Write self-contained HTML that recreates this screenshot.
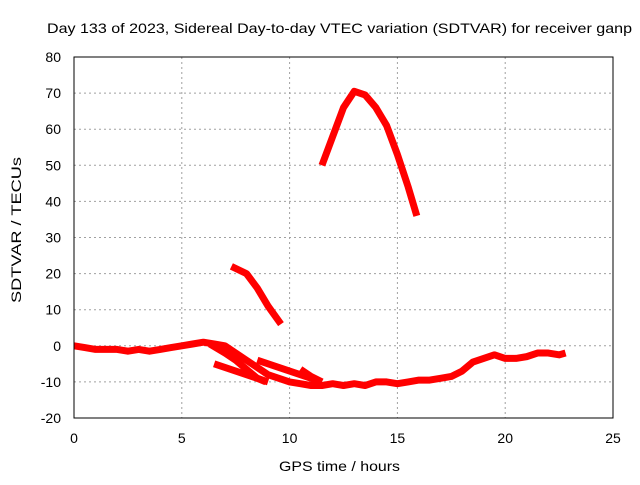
<!DOCTYPE html>
<html><head><meta charset="utf-8"><style>
body{margin:0;background:#fff}
text{font-family:"Liberation Sans",sans-serif;font-size:14px;fill:#000}
</style></head><body>
<svg id="chart" width="640" height="480" xmlns="http://www.w3.org/2000/svg">
<rect width="640" height="480" fill="#fff"/>
<text x="47" y="33" textLength="585" lengthAdjust="spacingAndGlyphs" style="font-size:14px">Day 133 of 2023, Sidereal Day-to-day VTEC variation (SDTVAR) for receiver ganp</text>
<g id="grid"></g>
<g id="series"></g>
<rect x="74" y="57" width="539" height="361" fill="none" stroke="#000" stroke-width="1"/>
<g id="ticks"></g>
<text x="279" y="471" textLength="121" lengthAdjust="spacingAndGlyphs" style="font-size:14px">GPS time / hours</text>
<text x="0" y="0" textLength="146" lengthAdjust="spacingAndGlyphs" style="font-size:14px" transform="translate(21 303) rotate(-90)">SDTVAR / TECUs</text>
</svg>
<script>
const xTicks=[0,5,10,15,20,25];
const yTicks=[80,70,60,50,40,30,20,10,0,-10,-20];
const mainT=[0,0.5,1,1.5,2,2.5,3,3.5,4,4.5,5,5.5,6,6.5,7,7.5,8,8.5,9,9.5,10,10.5,11,11.5,12,12.5,13,13.5,14,14.5,15,15.5,16,16.5,17,17.5,18,18.5,19,19.5,20,20.5,21,21.5,22,22.5,22.8];
const mainV=[0,-0.5,-1,-1,-1,-1.5,-1,-1.5,-1,-0.5,0,0.5,1,0.5,0,-2,-4,-6,-8,-9,-10,-10.5,-11,-11,-10.5,-11,-10.5,-11,-10,-10,-10.5,-10,-9.5,-9.5,-9,-8.5,-7,-4.5,-3.5,-2.5,-3.5,-3.5,-3,-2,-2,-2.5,-2];
const b2T=[6.3,7,7.5,8,8.5,8.9];const b2V=[0.5,-2,-4,-6.5,-9,-10];
const b3T=[6.5,7.5,8.5,9];const b3V=[-5,-7,-9,-10];
const b4T=[8.5,9.5,10.5,11.5];const b4V=[-4,-6,-8,-10];
const b5T=[10.5,11,11.5];const b5V=[-6.5,-8.5,-10];
const b6T=[7.3,8,8.5,9,9.6];const b6V=[22,20,16,11,6];
const arcT=[11.5,12,12.5,13,13.5,14,14.5,15,15.5,15.9];const arcV=[50,58,66,70.5,69.5,66,61,53,44,36];
const X=t=>74+t*(539/25);
const Y=v=>418-(v+20)*(361/100);
const NS="http://www.w3.org/2000/svg";
const grid=document.getElementById('grid'),ticks=document.getElementById('ticks'),ser=document.getElementById('series');
function mk(tag,at,parent){const e=document.createElementNS(NS,tag);for(const k in at)e.setAttribute(k,at[k]);parent.appendChild(e);return e;}
xTicks.forEach(t=>{
 if(t>0&&t<25){const g=mk('line',{x1:X(t),x2:X(t),y1:57,y2:418,stroke:'#a0a0a0','stroke-dasharray':'2,3'},grid);
 
 }
 const l=mk('text',{x:X(t),y:443,'text-anchor':'middle'},ticks);l.textContent=t;
 
 
});
yTicks.forEach(v=>{
 if(v>-20&&v<80){const g=mk('line',{x1:74,x2:613,y1:Y(v),y2:Y(v),stroke:'#a0a0a0','stroke-dasharray':'2,3'},grid);
 
 }
 const l=mk('text',{x:61,y:Y(v)+5,'text-anchor':'end'},ticks);l.textContent=v;
 
 
});
function draw(T,V,name){
 const p=mk('polyline',{points:T.map((t,i)=>X(t)+','+Y(V[i])).join(' '),fill:'none',stroke:'#ff0000','stroke-width':7,'stroke-linejoin':'round'},ser);
 
 
}
draw(mainT,mainV,'series-main');
draw(b2T,b2V,'series-branch-2');
draw(b3T,b3V,'series-branch-3');
draw(b4T,b4V,'series-branch-4');
draw(b5T,b5V,'series-branch-5');
draw(b6T,b6V,'series-branch-6');
draw(arcT,arcV,'series-arc');
</script>
</body></html>
